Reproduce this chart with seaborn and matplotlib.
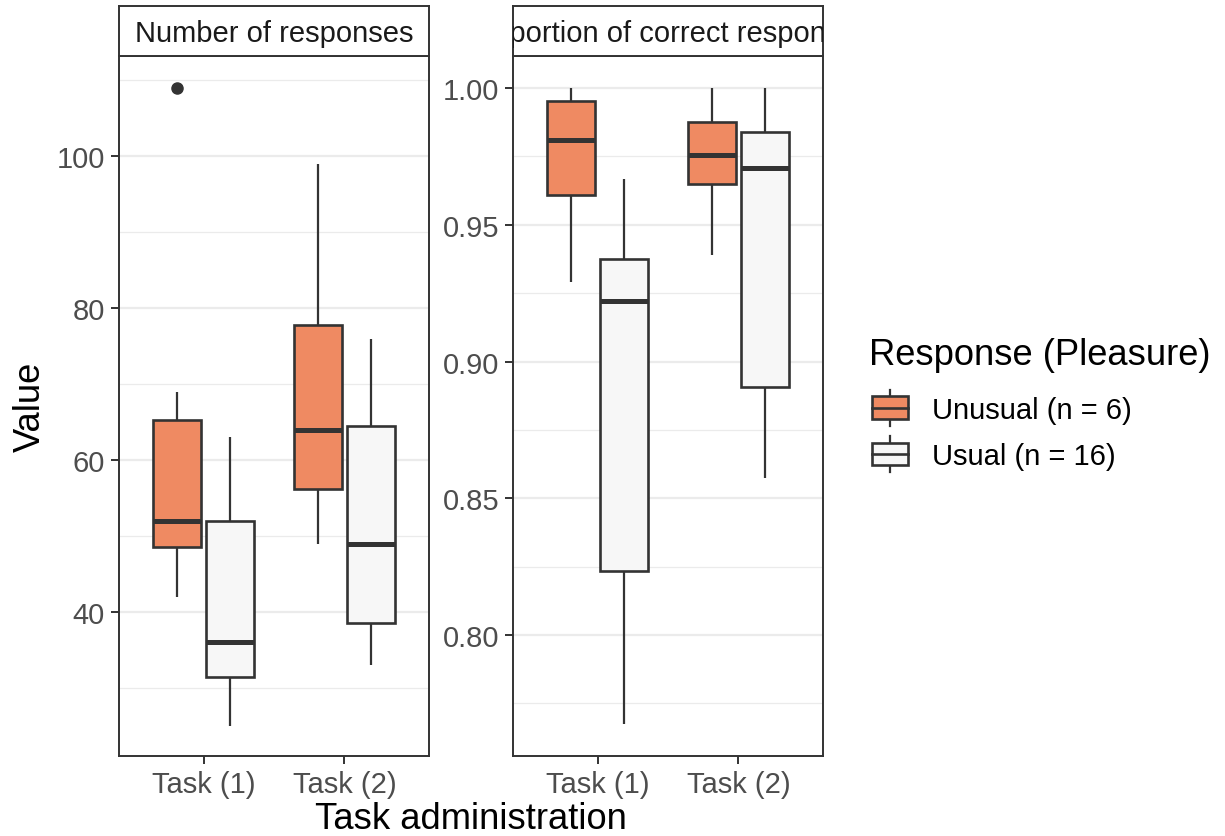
import numpy as np
import pandas as pd
import matplotlib
matplotlib.use("Agg")
import matplotlib.pyplot as plt
import seaborn as sns
from matplotlib.patches import Rectangle, Patch
from matplotlib.lines import Line2D
from matplotlib.legend_handler import HandlerBase
from matplotlib.ticker import FixedLocator, FormatStrFormatter

plt.rcParams['font.family'] = ['Liberation Sans', 'DejaVu Sans']

# ---------------- data ----------------
tasks = ["Task (1)", "Task (2)"]
responses = ["Unusual (n = 6)", "Usual (n = 16)"]
measures = ["Number of responses", "Proportion of correct responses"]
colors = ["#EF8A62", "#F7F7F7"]

n_task1_unusual = [42, 48, 50, 54, 69, 109]
n_task1_usual = [25, 27, 29, 30, 32, 33, 34, 35, 37, 40, 45, 51, 55, 58, 60, 63]
n_task2_unusual = [49, 55, 60, 68, 81, 99]
n_task2_usual = [33, 34, 36, 37, 39, 42, 45, 48, 50, 54, 58, 63, 69, 71, 73, 76]

p_task1_unusual = [0.929, 0.956, 0.975, 0.987, 0.998, 1.0]
p_task1_usual = [0.7675, 0.79, 0.81, 0.818, 0.8252, 0.85, 0.88, 0.915,
                 0.9292, 0.93, 0.934, 0.936, 0.942, 0.95, 0.96, 0.9667]
p_task2_unusual = [0.939, 0.9625, 0.972, 0.979, 0.9905, 1.0]
p_task2_usual = [0.8576, 0.87, 0.88, 0.888, 0.8916, 0.92, 0.95, 0.968,
                 0.9734, 0.975, 0.98, 0.983, 0.9866, 0.99, 0.995, 1.0]

y_ticks_n = [40, 60, 80, 100]
y_ticks_p = [0.80, 0.85, 0.90, 0.95, 1.00]

groups = {
    (measures[0], tasks[0], responses[0]): n_task1_unusual,
    (measures[0], tasks[0], responses[1]): n_task1_usual,
    (measures[0], tasks[1], responses[0]): n_task2_unusual,
    (measures[0], tasks[1], responses[1]): n_task2_usual,
    (measures[1], tasks[0], responses[0]): p_task1_unusual,
    (measures[1], tasks[0], responses[1]): p_task1_usual,
    (measures[1], tasks[1], responses[0]): p_task2_unusual,
    (measures[1], tasks[1], responses[1]): p_task2_usual,
}
records = [(m, t, r, v) for (m, t, r), vals in groups.items() for v in vals]
df = pd.DataFrame(records, columns=["Measure", "Task", "Response", "Value"])

# ---------------- layout ----------------
W, H = 1225, 837
fig = plt.figure(figsize=(W / 100, H / 100), dpi=100)
fig.patch.set_facecolor("white")

edge = "#333333"
panels = [(119, 429), (513, 823)]
p_top, p_bot, s_top = 57, 757, 7
ylims = [(21.05, 113.2), (0.7558, 1.0117)]
majors = [y_ticks_n, y_ticks_p]
minors = [[30, 50, 70, 90, 110], [0.775, 0.825, 0.875, 0.925, 0.975]]
fmts = ["%d", "%.2f"]
palette = dict(zip(responses, colors))

for i, (measure, (l, r)) in enumerate(zip(measures, panels)):
    ax = fig.add_axes([l / W, (H - p_bot) / H, (r - l) / W, (p_bot - p_top) / H])
    sub = df[df.Measure == measure]
    sns.boxplot(data=sub, x="Task", y="Value", hue="Response", order=tasks,
                hue_order=responses, palette=palette, saturation=1,
                width=0.75, gap=0.1, linewidth=1.9, linecolor=edge,
                showcaps=False, whis=1.5,
                whiskerprops=dict(linewidth=1.6, color=edge),
                flierprops=dict(marker="o", markerfacecolor=edge,
                                markeredgecolor=edge, markersize=8),
                medianprops=dict(linewidth=3.6, color=edge),
                legend=False, ax=ax)
    ax.set_xlim(-0.6, 1.6)
    ax.set_ylim(*ylims[i])
    ax.yaxis.set_major_locator(FixedLocator(majors[i]))
    ax.yaxis.set_minor_locator(FixedLocator(minors[i]))
    ax.yaxis.set_major_formatter(FormatStrFormatter(fmts[i]))
    ax.set_axisbelow(True)
    ax.yaxis.grid(True, which="major", color="#EBEBEB", lw=1.6)
    ax.yaxis.grid(True, which="minor", color="#EBEBEB", lw=0.9)
    ax.xaxis.grid(False)
    ax.tick_params(axis="both", which="major", length=6, width=1.4,
                   color=edge, labelsize=21, labelcolor="#4D4D4D", pad=4,
                   left=True, bottom=True)
    ax.tick_params(axis="y", which="minor", length=0)
    for s in ax.spines.values():
        s.set_color(edge)
        s.set_linewidth(1.4)
    ax.set_xlabel("")
    ax.set_ylabel("")
    ax.set_facecolor("white")

    sax = fig.add_axes([l / W, (H - p_top) / H, (r - l) / W, (p_top - s_top) / H])
    sax.set_xticks([])
    sax.set_yticks([])
    sax.set_facecolor("white")
    for s in sax.spines.values():
        s.set_color(edge)
        s.set_linewidth(1.4)
    t = sax.text(0.5, 0.45, measure, ha="center", va="center",
                 fontsize=21, color="#1A1A1A", transform=sax.transAxes)
    t.set_clip_on(True)
    t.set_clip_box(sax.bbox)

fig.text(30 / W, (H - 407) / H, "Value", rotation=90, ha="center",
         va="center", fontsize=26.2, color="black")
fig.text(471 / W, (H - 829) / H, "Task administration", ha="center",
         va="baseline", fontsize=26.2, color="black")


class BoxKeyHandler(HandlerBase):
    def create_artists(self, legend, orig_handle, xdescent, ydescent,
                       width, height, fontsize, trans):
        fc = orig_handle.get_facecolor()
        x0, y0 = -xdescent, -ydescent
        cx = x0 + width / 2
        w1 = Line2D([cx, cx], [y0 + height, y0 + height * 1.3], color=edge,
                    lw=1.6, transform=trans)
        w2 = Line2D([cx, cx], [y0, y0 - height * 0.3], color=edge,
                    lw=1.6, transform=trans)
        rect = Rectangle((x0, y0), width, height, facecolor=fc,
                         edgecolor=edge, lw=1.9, transform=trans)
        med = Line2D([x0, x0 + width], [y0 + height / 2] * 2, color=edge,
                     lw=1.9, transform=trans)
        return [w1, w2, rect, med]


fig.text(869 / W, 1 - 365 / H, "Response (Pleasure)", ha="left",
         va="baseline", fontsize=26.2, color="black")

handles = [Patch(facecolor=c, edgecolor=edge) for c in colors]
leg = fig.legend(handles, responses, loc="center left",
                 bbox_to_anchor=(872 / W, 1 - 434 / H), frameon=False,
                 fontsize=21, handlelength=1.25, handleheight=0.82,
                 handletextpad=0.82, labelspacing=0.62, borderpad=0,
                 borderaxespad=0, handler_map={Patch: BoxKeyHandler()})

fig.savefig("out.png", dpi=100, facecolor="white")
